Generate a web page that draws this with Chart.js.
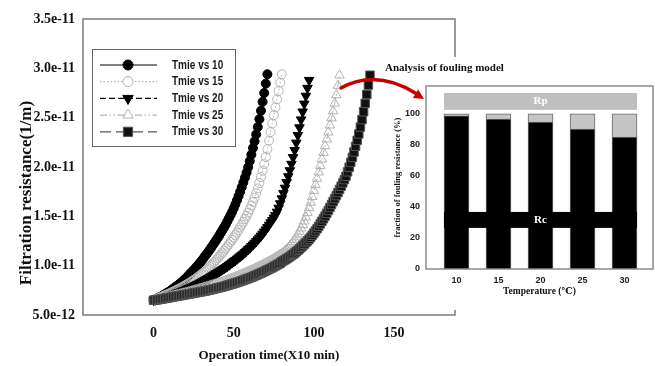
<!DOCTYPE html>
<html>
<head>
<meta charset="utf-8">
<script src="https://cdn.jsdelivr.net/npm/chart.js@4.4.0/dist/chart.umd.min.js"></script>
<style>
  body { margin: 0; background: #fff; }
  #wrap { position: relative; width: 655px; height: 366px; }
  #main { position: absolute; left: 0; top: 0; }
  #inset { position: absolute; left: 335px; top: 57px; }
</style>
</head>
<body>
<div id="wrap">
  <canvas id="main" width="655" height="366"></canvas>
  <canvas id="inset" width="320" height="253"></canvas>
</div>
<script>
// Filtration resistance, in units of 1e-12 1/m, one reading per time step (x10 min), starting at 0
var res10 = [6.5,6.58,6.66,6.74,6.82,6.9,7.0,7.1,7.2,7.3,
  7.4,7.52,7.64,7.76,7.88,8.0,8.13,8.26,8.4,8.55,
  8.7,8.87,9.04,9.21,9.38,9.55,9.73,9.92,10.11,10.3,
  10.5,10.72,10.94,11.16,11.38,11.6,11.84,12.08,12.32,12.56,
  12.8,13.07,13.34,13.61,13.88,14.16,14.48,14.8,15.12,15.45,
  15.8,16.2,16.62,17.05,17.5,17.96,18.43,18.92,19.43,19.98,
  20.6,21.25,21.92,22.6,23.3,24.05,24.85,25.7,26.6,27.5,
  28.45,29.4];
var res15 = [6.5,6.57,6.64,6.71,6.78,6.85,6.92,6.99,7.06,7.13,
  7.2,7.27,7.35,7.43,7.51,7.59,7.67,7.76,7.85,7.94,
  8.03,8.13,8.23,8.33,8.44,8.55,8.66,8.78,8.9,9.02,
  9.15,9.29,9.43,9.58,9.73,9.89,10.05,10.22,10.39,10.57,
  10.75,10.94,11.13,11.33,11.53,11.74,11.95,12.17,12.39,12.62,
  12.85,13.09,13.34,13.6,13.87,14.15,14.44,14.74,15.05,15.38,
  15.72,16.08,16.46,16.88,17.33,17.83,18.38,18.98,19.62,20.3,
  21.02,21.8,22.67,23.54,24.41,25.25,26.05,26.85,27.7,28.55,
  29.4];
var res20 = [6.5,6.54,6.58,6.62,6.66,6.7,6.75,6.8,6.85,6.9,
  6.95,7.0,7.05,7.11,7.17,7.23,7.29,7.35,7.42,7.49,
  7.56,7.63,7.7,7.77,7.85,7.93,8.01,8.09,8.17,8.26,
  8.35,8.44,8.53,8.62,8.71,8.8,8.9,9.0,9.1,9.2,
  9.3,9.4,9.51,9.62,9.73,9.84,9.95,10.07,10.19,10.31,
  10.43,10.55,10.68,10.81,10.94,11.07,11.21,11.35,11.5,11.65,
  11.8,11.96,12.12,12.29,12.46,12.64,12.83,13.02,13.22,13.43,
  13.65,13.88,14.12,14.37,14.6,14.85,15.1,15.45,15.85,16.3,
  16.8,17.33,17.88,18.45,19.04,19.65,20.3,20.98,21.7,22.45,
  23.22,24.0,24.8,25.6,26.4,27.2,28.0,28.8];
var res25 = [6.5,6.53,6.57,6.6,6.64,6.67,6.71,6.74,6.78,6.81,
  6.85,6.89,6.93,6.97,7.01,7.05,7.09,7.13,7.17,7.21,
  7.25,7.29,7.34,7.38,7.43,7.47,7.52,7.56,7.61,7.65,
  7.7,7.75,7.8,7.85,7.9,7.95,8.0,8.05,8.1,8.15,
  8.2,8.25,8.3,8.36,8.42,8.48,8.54,8.6,8.66,8.72,
  8.78,8.84,8.9,8.97,9.04,9.11,9.18,9.25,9.32,9.39,
  9.46,9.53,9.6,9.68,9.76,9.84,9.92,10.0,10.08,10.16,
  10.25,10.34,10.43,10.52,10.61,10.7,10.8,10.9,11.0,11.11,
  11.22,11.35,11.49,11.64,11.8,11.98,12.18,12.4,12.64,12.9,
  13.18,13.48,13.8,14.14,14.5,14.9,15.35,15.85,16.4,16.98,
  17.58,18.2,18.83,19.47,20.12,20.78,21.45,22.13,22.82,23.52,
  24.23,24.95,25.68,26.45,27.3,28.25,29.3];
var res30 = [6.5,6.52,6.54,6.56,6.59,6.62,6.65,6.68,6.71,6.74,
  6.77,6.8,6.83,6.86,6.89,6.92,6.95,6.98,7.01,7.04,
  7.07,7.1,7.13,7.16,7.19,7.22,7.25,7.28,7.31,7.34,
  7.37,7.4,7.43,7.46,7.5,7.54,7.58,7.62,7.66,7.7,
  7.74,7.78,7.82,7.86,7.9,7.95,8.0,8.05,8.1,8.15,
  8.2,8.25,8.3,8.35,8.41,8.47,8.53,8.59,8.65,8.71,
  8.77,8.83,8.9,8.97,9.04,9.11,9.18,9.25,9.33,9.41,
  9.49,9.57,9.65,9.73,9.81,9.9,9.99,10.08,10.17,10.26,
  10.4,10.5,10.6,10.7,10.81,10.92,11.04,11.16,11.28,11.41,
  11.55,11.7,11.85,12.01,12.17,12.34,12.51,12.69,12.88,13.08,
  13.3,13.52,13.75,13.99,14.24,14.5,14.76,15.03,15.3,15.6,
  15.9,16.2,16.5,16.8,17.1,17.41,17.73,18.05,18.38,18.72,
  19.06,19.51,19.98,20.47,20.98,21.52,22.1,22.7,23.35,24.05,
  24.8,25.6,26.45,27.35,28.3,29.3];

var seriesNames = ['Tmie vs 10', 'Tmie vs 15', 'Tmie vs 20', 'Tmie vs 25', 'Tmie vs 30'];
var timeTicks = [0, 50, 100, 150];
var resTicks = [5, 10, 15, 20, 25, 30, 35];

// inset: share of fouling resistance (%) per temperature
var temps = [10, 15, 20, 25, 30];
var rcShare = [98.7, 96.6, 94.8, 90.3, 85.0];
var rpShare = [1.3, 3.4, 5.2, 9.7, 15.0];
var fracTicks = [0, 20, 40, 60, 80, 100];
var rpBand = [102.6, 113.5];
var rcBand = [26.5, 36.8];

var serif = "'Liberation Serif', 'DejaVu Serif', serif";
var sans = "'Liberation Sans', Arial, sans-serif";

var looks = [
  { shape: 'circle', rot: 0, r: 4.5, fill: '#000', edge: '#000', dash: [] },
  { shape: 'circle', rot: 0, r: 4.5, fill: 'rgba(255,255,255,0)', edge: '#b3b3b3', dash: [1.5, 2] },
  { shape: 'triangle', rot: 180, r: 5.5, fill: '#000', edge: '#000', dash: [6, 3] },
  { shape: 'triangle', rot: 0, r: 5.5, fill: 'rgba(255,255,255,0)', edge: '#b3b3b3', dash: [7, 2.5, 1.5, 2.5, 1.5, 2.5] },
  { shape: 'rect', rot: 0, r: 6, fill: '#111', edge: '#555', dash: [11, 5] }
];

var allRes = [res10, res15, res20, res25, res30];
var datasets = allRes.map(function (vals, k) {
  var lk = looks[k];
  return {
    label: seriesNames[k],
    data: vals.map(function (v, i) { return { x: i, y: v }; }),
    showLine: true,
    borderColor: lk.edge,
    borderWidth: 1,
    borderDash: lk.dash,
    pointStyle: lk.shape,
    pointRotation: lk.rot,
    pointRadius: lk.r,
    pointBackgroundColor: lk.fill,
    pointBorderColor: lk.edge,
    pointBorderWidth: 1,
    order: 5 - k
  };
});

// frame round the plot, y title and the legend box
var mainDecor = {
  id: 'mainDecor',
  afterDatasetsDraw: function (chart) {
    var a = chart.chartArea, ctx = chart.ctx;
    ctx.save();
    ctx.strokeStyle = '#7a7a7a';
    ctx.lineWidth = 1.5;
    ctx.strokeRect(a.left, a.top, a.right - a.left, a.bottom - a.top);
    ctx.restore();
  },
  afterDraw: function (chart) {
    var ctx = chart.ctx;
    ctx.save();
    ctx.translate(27, 193);
    ctx.rotate(-Math.PI / 2);
    ctx.font = 'bold 17px ' + serif;
    ctx.fillStyle = '#111';
    ctx.textAlign = 'center';
    ctx.textBaseline = 'middle';
    ctx.fillText('Filtration resistance(1/m)', 0, 0);
    ctx.restore();

    // legend
    ctx.save();
    ctx.fillStyle = '#fff';
    ctx.fillRect(92.5, 49.5, 143, 97);
    ctx.strokeStyle = '#666';
    ctx.lineWidth = 1;
    ctx.strokeRect(92.5, 49.5, 143, 97);
    for (var k = 0; k < seriesNames.length; k++) {
      var lk = looks[k];
      var y = 65 + k * 16.7;
      ctx.setLineDash(lk.dash);
      ctx.strokeStyle = lk.edge;
      ctx.lineWidth = 1.2;
      ctx.beginPath();
      ctx.moveTo(100, y);
      ctx.lineTo(157, y);
      ctx.stroke();
      ctx.setLineDash([]);
      ctx.fillStyle = lk.fill === '#111' ? '#111' : (lk.fill.indexOf('rgba') === 0 ? '#fff' : lk.fill);
      ctx.strokeStyle = lk.edge;
      ctx.lineWidth = 1;
      Chart.helpers.drawPoint(ctx, { pointStyle: lk.shape, rotation: lk.rot, radius: lk.r + 0.5, borderWidth: 1 }, 128, y);
      ctx.save();
      ctx.translate(172, y);
      ctx.scale(0.77, 1);
      ctx.font = 'bold 13px ' + sans;
      ctx.fillStyle = '#1a1a1a';
      ctx.textBaseline = 'middle';
      ctx.fillText(seriesNames[k], 0, 0);
      ctx.restore();
    }
    ctx.restore();
  }
};

new Chart(document.getElementById('main'), {
  type: 'scatter',
  data: { datasets: datasets },
  options: {
    responsive: false,
    animation: false,
    layout: { padding: { left: 0, right: 200, top: 19, bottom: 0 } },
    plugins: { legend: { display: false }, tooltip: { enabled: false } },
    scales: {
      x: {
        type: 'linear', min: -44, max: 188,
        afterFit: function (s) { s.height = 51; },
        afterBuildTicks: function (s) { s.ticks = timeTicks.map(function (v) { return { value: v }; }); },
        grid: { display: false, drawTicks: false },
        border: { display: false },
        ticks: { padding: 10, color: '#111', font: { family: serif, weight: 'bold', size: 14 } },
        title: {
          display: true, text: 'Operation time(X10 min)', color: '#111',
          font: { family: serif, weight: 'bold', size: 13 },
          padding: { top: 0, bottom: 3 }
        }
      },
      y: {
        type: 'linear', min: 5, max: 35,
        afterFit: function (s) { s.width = 83; },
        afterBuildTicks: function (s) { s.ticks = resTicks.map(function (v) { return { value: v }; }); },
        grid: { display: false, drawTicks: false },
        border: { display: false },
        ticks: {
          padding: 8, color: '#111', font: { family: serif, weight: 'bold', size: 14 },
          callback: function (v) { return (v * 1e-12).toExponential(1); }
        }
      }
    }
  },
  plugins: [mainDecor]
});

// inset: white panel, Rc / Rp labels, frame, caption and red arrow
var insetDecor = {
  id: 'insetDecor',
  beforeDraw: function (chart) {
    var ctx = chart.ctx;
    ctx.save();
    ctx.fillStyle = '#fff';
    ctx.fillRect(47, 0, chart.width - 47, chart.height);
    ctx.restore();
  },
  afterDatasetsDraw: function (chart) {
    var ctx = chart.ctx, xs = chart.scales.x, ys = chart.scales.y, a = chart.chartArea;
    var half = 12.5;
    var x0 = xs.getPixelForValue(temps[0]) - half;
    var x1 = xs.getPixelForValue(temps[temps.length - 1]) + half;
    var cx = (x0 + x1) / 2;
    ctx.save();
    // Rc band
    var rcTop = ys.getPixelForValue(rcBand[1]), rcBot = ys.getPixelForValue(rcBand[0]);
    ctx.fillStyle = '#000';
    ctx.fillRect(x0, rcTop, x1 - x0, rcBot - rcTop);
    // Rp band
    var rpTop = ys.getPixelForValue(rpBand[1]), rpBot = ys.getPixelForValue(rpBand[0]);
    ctx.fillStyle = '#bfbfbf';
    ctx.fillRect(x0, rpTop, x1 - x0, rpBot - rpTop);
    ctx.fillStyle = '#fff';
    ctx.font = 'bold 11px ' + serif;
    ctx.textAlign = 'center';
    ctx.textBaseline = 'middle';
    ctx.fillText('Rp', cx, (rpTop + rpBot) / 2);
    ctx.fillText('Rc', cx, (rcTop + rcBot) / 2);
    // frame
    ctx.strokeStyle = '#8a8a8a';
    ctx.lineWidth = 1.5;
    ctx.strokeRect(a.left, a.top, a.right - a.left, a.bottom - a.top);
    ctx.restore();
  },
  afterDraw: function (chart) {
    var ctx = chart.ctx;
    ctx.save();
    ctx.font = 'bold 11px ' + serif;
    ctx.fillStyle = '#111';
    ctx.textBaseline = 'middle';
    ctx.fillText('Analysis of fouling model', 50, 11);
    // red curved arrow
    ctx.strokeStyle = '#c40000';
    ctx.fillStyle = '#c40000';
    ctx.lineWidth = 3.5;
    ctx.lineCap = 'round';
    ctx.beginPath();
    ctx.moveTo(6, 31);
    ctx.quadraticCurveTo(41.5, 11.5, 82, 37);
    ctx.stroke();
    var ang = Math.atan2(37 - 11.5, 82 - 41.5);
    var tx = 89, ty = 42;
    ctx.beginPath();
    ctx.moveTo(tx, ty);
    ctx.lineTo(tx - 10 * Math.cos(ang) + 5 * Math.sin(ang), ty - 10 * Math.sin(ang) - 5 * Math.cos(ang));
    ctx.lineTo(tx - 10 * Math.cos(ang) - 5 * Math.sin(ang), ty - 10 * Math.sin(ang) + 5 * Math.cos(ang));
    ctx.closePath();
    ctx.fill();
    ctx.restore();
  }
};

new Chart(document.getElementById('inset'), {
  type: 'bar',
  data: {
    datasets: [
      {
        label: 'Rc',
        data: temps.map(function (t, i) { return { x: t, y: rcShare[i] }; }),
        backgroundColor: '#000', borderColor: '#6a6a6a', borderWidth: 1, barThickness: 25
      },
      {
        label: 'Rp',
        data: temps.map(function (t, i) { return { x: t, y: rpShare[i] }; }),
        backgroundColor: '#c4c4c4', borderColor: '#6a6a6a', borderWidth: 1, barThickness: 25
      }
    ]
  },
  options: {
    responsive: false,
    animation: false,
    layout: { padding: { left: 0, right: 2, top: 29, bottom: 0 } },
    plugins: { legend: { display: false }, tooltip: { enabled: false } },
    scales: {
      x: {
        type: 'linear', min: 6.37, max: 33.39, stacked: true, offset: false,
        afterFit: function (s) { s.height = 41; },
        afterBuildTicks: function (s) { s.ticks = temps.map(function (v) { return { value: v }; }); },
        grid: { display: false, drawTicks: false },
        border: { display: false },
        ticks: { padding: 6, color: '#222', font: { family: sans, weight: 'bold', size: 9 } },
        title: {
          display: true, text: 'Temperature (\u2103)', color: '#111',
          font: { family: serif, weight: 'bold', size: 9.5 },
          padding: { top: 0, bottom: 13 }
        }
      },
      y: {
        type: 'linear', min: 0, max: 118, stacked: true,
        afterFit: function (s) { s.width = 91; },
        afterBuildTicks: function (s) { s.ticks = fracTicks.map(function (v) { return { value: v }; }); },
        grid: { display: false, drawTicks: false },
        border: { display: false },
        ticks: { padding: 6, color: '#222', font: { family: sans, weight: 'bold', size: 9 } },
        title: {
          display: true, text: 'fraction of fouling resistance (%)', color: '#111',
          font: { family: serif, weight: 'bold', size: 8.5 },
          padding: { top: 58, bottom: 0 }
        }
      }
    }
  },
  plugins: [insetDecor]
});
</script>
</body>
</html>
